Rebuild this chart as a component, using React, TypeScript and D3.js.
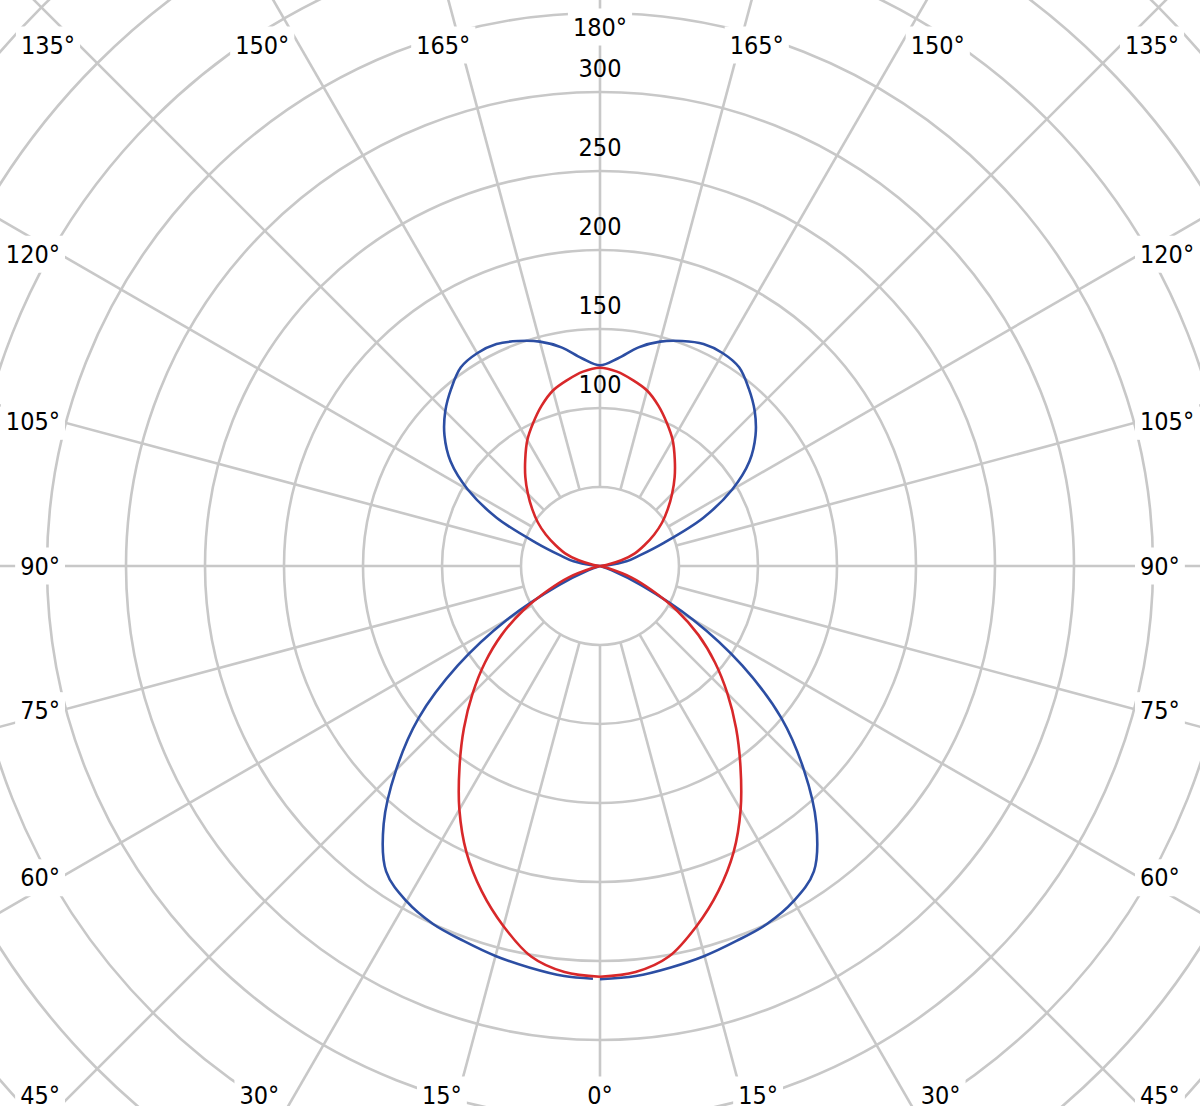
import { useEffect, useRef } from 'react'
import * as d3 from 'd3'

const WIDTH = 1200
const HEIGHT = 1106

// gamma angles of the measurement, 0° = straight down, 180° = straight up
const gammas = [
  0, 5, 10, 15, 20, 25, 30, 35, 40, 45, 50, 55, 60, 65, 70, 75, 80, 85, 90,
  95, 100, 105, 110, 115, 120, 125, 130, 135, 140, 145, 150, 155, 160, 165, 170, 175, 180
]

// C0-C180 plane (red)
const planeC0 = [
  260, 258, 251, 236, 219, 200, 178, 155, 134, 114, 95, 76, 56, 36, 21, 5, 0.5, 0, 0,
  0, 4, 14, 23.5, 31, 39.5, 48, 56, 64.5, 73.5, 82.5, 92, 100, 108, 115, 119.5, 123.5, 125.5
]

// C90-C270 plane (blue)
const planeC90 = [
  261.5, 260.5, 258, 255.5, 252.5, 250, 245, 236, 213, 182.5, 150, 110, 68, 29, 8, 1, 0, 0, 0,
  4, 17, 26, 43, 72, 96.5, 115.5, 128.5, 138.5, 146.5, 153.5, 155.5, 155, 151.5, 147, 140.5, 132, 127
]

const ringValues = [50, 100, 150, 200, 250, 300, 350, 400, 450, 500, 550, 600]
const ringLabels = [100, 150, 200, 250, 300]
const angleLabels = [0, 15, 30, 45, 60, 75, 90, 105, 120, 135, 150, 165, 180]

const FONT = '"DejaVu Sans Condensed", "DejaVu Sans", sans-serif'
const FONT_SIZE = 25

export default function App() {
  const svgRef = useRef<SVGSVGElement>(null)

  useEffect(() => {
    if (!svgRef.current) return
    const svg = d3.select(svgRef.current)
    svg.selectAll('*').remove()

    const cx = 600
    const cy = 566
    const r = d3.scaleLinear().domain([0, 300]).range([0, 474])
    const grid = '#c8c8c8'

    const g = svg.append('g').attr('transform', `translate(${cx},${cy})`)

    // rings
    g.append('g')
      .selectAll('circle')
      .data(ringValues)
      .enter()
      .append('circle')
      .attr('r', d => r(d))
      .attr('fill', 'none')
      .attr('stroke', grid)
      .attr('stroke-width', 2.6)

    // spokes every 15°, starting at the innermost ring
    const spokes = d3.range(0, 360, 15)
    g.append('g')
      .selectAll('line')
      .data(spokes)
      .enter()
      .append('line')
      .attr('x1', d => r(ringValues[0]) * Math.sin((d * Math.PI) / 180))
      .attr('y1', d => r(ringValues[0]) * Math.cos((d * Math.PI) / 180))
      .attr('x2', d => r(600) * Math.sin((d * Math.PI) / 180))
      .attr('y2', d => r(600) * Math.cos((d * Math.PI) / 180))
      .attr('stroke', grid)
      .attr('stroke-width', 2.6)

    // value labels up the 180° spoke
    g.append('g')
      .selectAll('text')
      .data(ringLabels)
      .enter()
      .append('text')
      .attr('x', 0)
      .attr('y', d => -r(d) - 24)
      .attr('text-anchor', 'middle')
      .attr('dominant-baseline', 'central')
      .attr('font-family', FONT)
      .attr('font-size', FONT_SIZE)
      .attr('fill', '#000')
      .text(d => d)

    // angle labels sit where the spoke meets a frame, kept inside the picture
    const frame = { side: 540, top: 585, bottom: 590 }
    const placed: { text: string; x: number; y: number; anchor: string }[] = []
    angleLabels.forEach(a => {
      const sides = a === 0 || a === 180 ? [1] : [-1, 1]
      sides.forEach(sign => {
        const t = (a * Math.PI) / 180
        const ux = sign * Math.sin(t)
        const uy = Math.cos(t)
        const tSide = Math.abs(ux) > 1e-6 ? frame.side / Math.abs(ux) : Infinity
        const tVert = Math.abs(uy) > 1e-6 ? (uy > 0 ? frame.bottom : frame.top) / Math.abs(uy) : Infinity
        const onSide = tSide <= tVert
        const s = Math.min(tSide, tVert)
        let x = cx + ux * s
        let y = cy + uy * s
        // 180° is nudged up so it clears the 300 label
        y = Math.max(a === 180 ? 27 : 45, Math.min(1095, y))
        let anchor = onSide ? (sign < 0 ? 'end' : 'start') : 'middle'
        // corner labels that got pushed down from the top are centred on the frame edge
        if (onSide && uy < 0 && y > cy + uy * s) {
          anchor = 'middle'
          x = cx + sign * (frame.side + 12)
        }
        placed.push({ text: `${a}°`, x, y, anchor })
      })
    })

    const labelGroup = svg.append('g')
    placed.forEach(p => {
      const lg = labelGroup.append('g')
      const rect = lg.append('rect').attr('fill', '#fff')
      const txt = lg.append('text')
        .attr('x', p.x)
        .attr('y', p.y)
        .attr('text-anchor', p.anchor)
        .attr('dominant-baseline', 'central')
        .attr('font-family', FONT)
        .attr('font-size', FONT_SIZE)
        .attr('fill', '#000')
        .text(p.text)
      const bb = (txt.node() as SVGTextElement).getBBox()
      rect
        .attr('x', bb.x - 5)
        .attr('y', bb.y - 4)
        .attr('width', bb.width + 10)
        .attr('height', bb.height + 8)
    })

    // curves: right half gamma 0 -> 180, left half back down to 0
    const line = d3.lineRadial<[number, number]>()
      .angle(d => d[0])
      .radius(d => r(d[1]))
      .curve(d3.curveCatmullRom.alpha(0.5))

    const toPoints = (vals: number[]) => {
      const right = gammas.map((gm, i) => [Math.PI - (gm * Math.PI) / 180, vals[i]] as [number, number])
      const left = gammas
        .map((gm, i) => [Math.PI + (gm * Math.PI) / 180, vals[i]] as [number, number])
        .reverse()
        .slice(1)
      return right.concat(left)
    }

    const blue = g.append('path')
      .attr('d', line(toPoints(planeC90)))
      .attr('fill', 'none')
      .attr('stroke', '#2c4ea3')
      .attr('stroke-width', 2.6)

    // the blue trace stops just short of its start at 0°
    const len = (blue.node() as SVGPathElement).getTotalLength()
    blue.attr('stroke-dasharray', `${len - 8} 20`)

    g.append('path')
      .attr('d', line(toPoints(planeC0)))
      .attr('fill', 'none')
      .attr('stroke', '#d8282a')
      .attr('stroke-width', 2.6)
  }, [])

  return (
    <svg
      ref={svgRef}
      width={WIDTH}
      height={HEIGHT}
      style={{ position: 'absolute', left: 0, top: 0, background: '#fff' }}
    />
  )
}
